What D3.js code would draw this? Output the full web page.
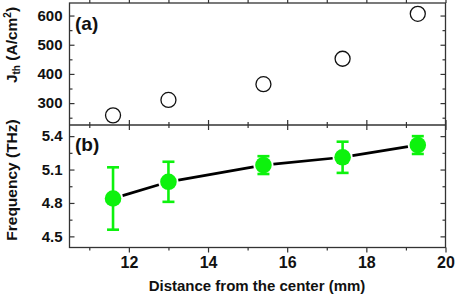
<!DOCTYPE html>
<html><head><meta charset="utf-8">
<script src="https://cdn.jsdelivr.net/npm/d3@7"></script>
<style>
body{margin:0;background:#fff;}
svg text{font-family:"Liberation Sans",Arial,sans-serif;font-weight:bold;fill:#111;}
</style></head><body>
<svg id="c" width="457" height="298"></svg>
<script>
const distance = [11.6, 13.0, 15.4, 17.4, 19.3];
const jth = [258, 311, 365, 452, 606];
const freq = [4.84, 4.99, 5.14, 5.21, 5.32];
const freqErrUp = [5.12, 5.17, 5.22, 5.35, 5.40];
const freqErrDown = [4.56, 4.81, 5.06, 5.07, 5.24];
const xTicks = [12, 14, 16, 18, 20];
const jTicks = [300, 400, 500, 600];
const fTicks = [4.5, 4.8, 5.1, 5.4];

const svg = d3.select("#c");
const L = 69.5, R = 445.5, T = 3, M = 125, B = 247.5;
const x = d3.scaleLinear().domain([10.5, 20]).range([L, R]);
const yA = d3.scaleLinear().domain([225, 643]).range([M, T]);
const yB = d3.scaleLinear().domain([4.4, 5.5]).range([B, M]);
const axisColor = "#333";
const xMinor = [11, 13, 15, 17, 19];

function panel(y, top, bot, ticks, minor, fmt) {
  const g = svg.append("g");
  g.append("g").attr("transform", `translate(${L},0)`)
    .call(d3.axisLeft(y).tickValues(ticks).tickSize(-5).tickPadding(7).tickFormat(fmt))
    .call(a => { a.select(".domain").remove(); a.selectAll("line").attr("stroke", axisColor).attr("stroke-width", 1.2);
      a.selectAll("text").style("font-size", "15px").attr("fill", "#111"); });
  g.append("g").attr("transform", `translate(${L},0)`)
    .call(d3.axisLeft(y).tickValues(minor).tickSize(-3).tickFormat(""))
    .call(a => { a.select(".domain").remove(); a.selectAll("line").attr("stroke", axisColor).attr("stroke-width", 1.2); });
  g.append("g").attr("transform", `translate(${R},0)`)
    .call(d3.axisRight(y).tickValues(ticks).tickSize(-5).tickFormat(""))
    .call(a => { a.select(".domain").remove(); a.selectAll("line").attr("stroke", axisColor).attr("stroke-width", 1.2); });
  g.append("g").attr("transform", `translate(${R},0)`)
    .call(d3.axisRight(y).tickValues(minor).tickSize(-3).tickFormat(""))
    .call(a => { a.select(".domain").remove(); a.selectAll("line").attr("stroke", axisColor).attr("stroke-width", 1.2); });
  [[top, 5, xTicks], [top, 3, xMinor], [bot, -5, xTicks], [bot, -3, xMinor]].forEach(([yy, s, tv]) => {
    const ax = s > 0 ? d3.axisBottom(x) : d3.axisTop(x);
    g.append("g").attr("transform", `translate(0,${yy})`)
      .call(ax.tickValues(tv).tickSize(-Math.abs(s)).tickFormat(""))
      .call(a => { a.select(".domain").remove(); a.selectAll("line").attr("stroke", axisColor).attr("stroke-width", 1.2); });
  });
}
panel(yA, T, M, jTicks, [250, 350, 450, 550], d3.format("d"));
panel(yB, M, B, fTicks, [4.65, 4.95, 5.25], d3.format(".1f"));

svg.append("g").attr("transform", `translate(0,${B})`)
  .call(d3.axisBottom(x).tickValues(xTicks).tickSize(0).tickPadding(9).tickFormat(d3.format("d")))
  .call(a => { a.select(".domain").remove(); a.selectAll("text").style("font-size", "16px").attr("fill", "#111"); });

svg.append("rect").attr("x", L).attr("y", T).attr("width", R - L).attr("height", B - T)
  .attr("fill", "none").attr("stroke", axisColor).attr("stroke-width", 1.3);
svg.append("line").attr("x1", L).attr("x2", R).attr("y1", M).attr("y2", M)
  .attr("stroke", axisColor).attr("stroke-width", 1.3);

svg.append("g").selectAll("circle").data(distance).join("circle")
  .attr("cx", d => x(d)).attr("cy", (d, i) => yA(jth[i])).attr("r", 7.5)
  .attr("fill", "none").attr("stroke", "#111").attr("stroke-width", 1.3);

const pts = distance.map((d, i) => [x(d), yB(freq[i])]);
const gap = 10;
for (let i = 0; i < pts.length - 1; i++) {
  const [x1, y1] = pts[i], [x2, y2] = pts[i + 1];
  const len = Math.hypot(x2 - x1, y2 - y1), ux = (x2 - x1) / len, uy = (y2 - y1) / len;
  svg.append("line").attr("x1", x1 + ux * gap).attr("y1", y1 + uy * gap)
    .attr("x2", x2 - ux * gap).attr("y2", y2 - uy * gap)
    .attr("stroke", "#000").attr("stroke-width", 2.7);
}
const green = "#0df20d";
const eb = svg.append("g").attr("stroke", green).attr("stroke-width", 2.6);
distance.forEach((d, i) => {
  const cx = x(d);
  eb.append("line").attr("x1", cx).attr("x2", cx).attr("y1", yB(freqErrUp[i])).attr("y2", yB(freqErrDown[i]));
  eb.append("line").attr("x1", cx - 6).attr("x2", cx + 6).attr("y1", yB(freqErrUp[i])).attr("y2", yB(freqErrUp[i]));
  eb.append("line").attr("x1", cx - 6).attr("x2", cx + 6).attr("y1", yB(freqErrDown[i])).attr("y2", yB(freqErrDown[i]));
});
svg.append("g").selectAll("circle").data(distance).join("circle")
  .attr("cx", d => x(d)).attr("cy", (d, i) => yB(freq[i])).attr("r", 8.3)
  .attr("fill", green);

svg.append("text").attr("x", 75).attr("y", 30).style("font-size", "19px").text("(a)");
svg.append("text").attr("x", 75).attr("y", 151).style("font-size", "19px").text("(b)");

svg.append("text").attr("x", 257).attr("y", 291).attr("text-anchor", "middle").style("font-size", "15px")
  .text("Distance from the center (mm)");
svg.append("text").attr("transform", "translate(17,180) rotate(-90)").attr("text-anchor", "middle")
  .style("font-size", "15.5px").text("Frequency (THz)");
const jt = svg.append("text").attr("transform", "translate(17,45) rotate(-90)").attr("text-anchor", "middle")
  .style("font-size", "15.5px");
jt.append("tspan").text("J");
jt.append("tspan").attr("dy", 3).style("font-size", "10px").text("th");
jt.append("tspan").attr("dy", -3).text(" (A/cm");
jt.append("tspan").attr("dy", -6).style("font-size", "10px").text("2");
jt.append("tspan").attr("dy", 6).text(")");
</script></body></html>
